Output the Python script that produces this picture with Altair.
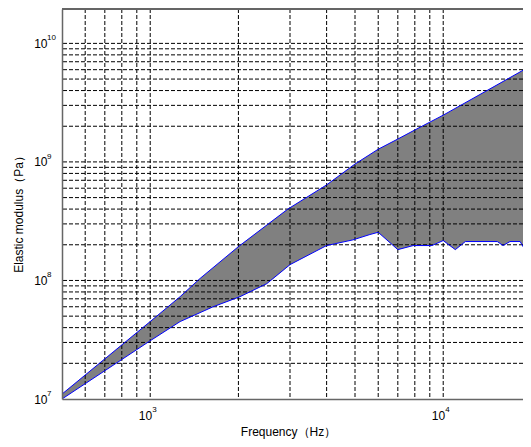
import altair as alt
import pandas as pd

# Upper boundary (frequency Hz, modulus Pa)
up_freq = [500, 1000, 1265, 1480, 2000, 2950, 4000, 5000, 6000, 7000, 8000, 10000, 20000]
up_val = [1.1e7, 4.5e7, 7.3e7, 1.04e8, 1.93e8, 4.0e8, 6.4e8, 9.6e8, 1.28e9, 1.56e9, 1.86e9, 2.48e9, 6.5e9]

# Lower boundary
lo_freq = [500, 1000, 1265, 1640, 2025, 2500, 3000, 4000, 4920, 5620, 6000, 7000, 7900,
           9150, 10000, 11000, 11900, 15300, 16000, 16900, 18300, 19000, 20000]
lo_val = [1.0e7, 3.1e7, 4.5e7, 6.0e7, 7.3e7, 9.4e7, 1.36e8, 1.97e8, 2.2e8, 2.44e8, 2.55e8, 1.82e8, 1.97e8,
          1.97e8, 2.17e8, 1.82e8, 2.13e8, 2.13e8, 1.97e8, 2.13e8, 2.13e8, 1.82e8, 2.05e8]

# Grid (minor tick) positions
x_grid = [600, 700, 800, 900, 1000, 2000, 3000, 4000, 5000, 6000, 7000, 8000, 9000, 10000]
y_grid = [m * 10 ** e for e in (7, 8, 9) for m in range(2, 10)] + [1e8, 1e9, 1e10]

x_ticks = [1000, 10000]
x_exponents = ["3", "4"]
y_ticks = [1e7, 1e8, 1e9, 1e10]
y_exponents = ["7", "8", "9", "10"]
tick_base = "10"

x_title = "Frequency（Hz）"
y_title = "Elastic modulus（Pa）"

x_domain = [500, 18720]   # visible part of the axis
y_domain = [1e7, 1.95e10]

FONT = "Liberation Sans"

df_up = pd.DataFrame({"f": up_freq, "v": up_val})
df_lo = pd.DataFrame({"f": lo_freq, "v": lo_val})
df_xg = pd.DataFrame({"f": x_grid})
df_yg = pd.DataFrame({"v": y_grid})
df_xe = pd.DataFrame({"f": x_ticks, "e": x_exponents, "b": [tick_base] * len(x_ticks)})
df_ye = pd.DataFrame({"v": y_ticks, "e": y_exponents})

xs = alt.Scale(type="log", domain=x_domain, nice=False)
ys = alt.Scale(type="log", domain=y_domain, nice=False)

xax = alt.Axis(values=x_ticks, labels=False, ticks=False, grid=False,
               title=x_title, titleX=226, titleY=36, titleBaseline="alphabetic", zindex=1)
yax = alt.Axis(values=y_ticks, labelExpr=f"'{tick_base}'", ticks=False, grid=False,
               title=y_title, titleX=-44, titleY=202, titleBaseline="middle", zindex=1,
               labelPadding=15, labelFlush=False, labelOverlap=False)

X = alt.X("f:Q", scale=xs, axis=xax)
Y = alt.Y("v:Q", scale=ys, axis=yax)

area_up = alt.Chart(df_up).mark_area(color="#808080", clip=True).encode(x=X, y=Y, y2=alt.datum(y_domain[0]))
area_lo = alt.Chart(df_lo).mark_area(color="#ffffff", clip=True).encode(x=X, y=Y, y2=alt.datum(y_domain[0]))
vgrid = alt.Chart(df_xg).mark_rule(color="black", strokeDash=[4, 2], strokeWidth=1).encode(x=X)
hgrid = alt.Chart(df_yg).mark_rule(color="black", strokeDash=[4, 2], strokeWidth=1).encode(y=Y)
top_border = alt.Chart(df_up).mark_rule(color="#666666", strokeWidth=1.5).encode(y=alt.datum(y_domain[1]))
line_up = alt.Chart(df_up).mark_line(color="#0000ff", strokeWidth=1, clip=True).encode(x=X, y=Y)
line_lo = alt.Chart(df_lo).mark_line(color="#0000ff", strokeWidth=1, clip=True).encode(x=X, y=Y)

x_base = alt.Chart(df_xe).mark_text(font=FONT, fontSize=12, align="right", baseline="alphabetic",
                                    dx=2, dy=21, color="black").encode(
    x=X, y=alt.datum(y_domain[0]), text="b:N")
x_exp = alt.Chart(df_xe).mark_text(font=FONT, fontSize=8, align="left", baseline="alphabetic",
                                   dx=2, dy=13, color="black").encode(
    x=X, y=alt.datum(y_domain[0]), text="e:N")
y_exp = alt.Chart(df_ye).mark_text(font=FONT, fontSize=8, align="left", baseline="alphabetic",
                                   dx=-15, dy=-3, color="black").encode(
    x=alt.datum(x_domain[0]), y=Y, text="e:N")

chart = alt.layer(area_up, area_lo, vgrid, hgrid, top_border, line_up, line_lo,
                  x_base, x_exp, y_exp).properties(
    width=461, height=390,
    padding={"left": 54, "top": 1, "right": 0, "bottom": 40},
    autosize=alt.AutoSizeParams(type="none"),
).configure_view(stroke=None).configure_axis(
    labelFont=FONT, titleFont=FONT, labelFontSize=12, titleFontSize=12,
    labelColor="black", titleColor="black", titleFontWeight="normal",
    domainColor="#666666", domainWidth=1.5,
)

chart.save("out.html", embed_options={"renderer": "svg", "actions": False})
